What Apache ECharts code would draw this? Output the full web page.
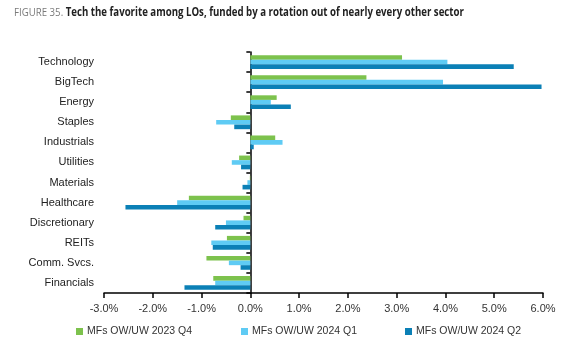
<!DOCTYPE html>
<html><head><meta charset="utf-8">
<script src="https://cdn.jsdelivr.net/npm/echarts@6/dist/echarts.min.js"></script>
<style>html,body{margin:0;padding:0;background:#fff}#c{width:582px;height:363px}</style>
</head><body><div id="c"></div>
<script>
const categories = ["Technology","BigTech","Energy","Staples","Industrials","Utilities","Materials","Healthcare","Discretionary","REITs","Comm. Svcs.","Financials"];
const seriesNames = ["MFs OW/UW 2023 Q4","MFs OW/UW 2024 Q1","MFs OW/UW 2024 Q2"];
const q4_2023 = [3.11, 2.38, 0.54, -0.40, 0.51, -0.23, -0.01, -1.26, -0.14, -0.48, -0.90, -0.76];
const q1_2024 = [4.04, 3.95, 0.42, -0.70, 0.66, -0.38, -0.06, -1.50, -0.50, -0.80, -0.44, -0.72];
const q2_2024 = [5.40, 5.97, 0.83, -0.33, 0.07, -0.19, -0.16, -2.56, -0.72, -0.77, -0.20, -1.35];
const xTicks = {min: -3, max: 6, interval: 1};
const colors = ["#7dc24d", "#5fcbf4", "#0b80b6"];

const chart = echarts.init(document.getElementById('c'), null, {renderer: 'canvas'});
const font = "'Liberation Sans', Arial, sans-serif";
const values = [q4_2023, q1_2024, q2_2024];
const gridLeft = 104, gridRight = 39;
const plotW = 582 - gridLeft - gridRight;
const zeroOffset = plotW * (0 - xTicks.min) / (xTicks.max - xTicks.min);
chart.setOption({
  animation: false,
  graphic: [{
    type: 'text', left: 14, top: 7, scaleX: 0.84, originX: 0,
    style: {
      text: "{a|FIGURE 35. }{b|Tech the favorite among LOs, funded by a rotation out of nearly every other sector}",
      rich: {
        a: {fontFamily: "'Open Sans', sans-serif", fontSize: 11.5, fontWeight: 'normal', fill: '#7a7a7a'},
        b: {fontFamily: "'Open Sans', sans-serif", fontSize: 11.5, fontWeight: 'bold', fill: '#222'}
      }
    }
  }],
  grid: {left: gridLeft, right: gridRight, top: 52, bottom: 70, containLabel: false},
  legend: [0,1,2].map((i) => ({
    data: [seriesNames[i]],
    left: [71, 236, 400][i], top: 321,
    itemWidth: 7, itemHeight: 7, itemGap: 5,
    icon: 'rect',
    textStyle: {fontFamily: font, fontSize: 10.5, color: '#333', padding: [0,0,0,-1]}
  })),
  xAxis: {
    type: 'value', min: xTicks.min, max: xTicks.max, interval: xTicks.interval,
    axisLine: {show: true, lineStyle: {color: '#000', width: 1.5}},
    axisTick: {show: true, length: 5, lineStyle: {color: '#000', width: 1.5}},
    splitLine: {show: false},
    axisLabel: {formatter: (v) => v.toFixed(1) + '%', fontFamily: font, fontSize: 11, color: '#333', margin: 10}
  },
  yAxis: [
    {
      type: 'category', data: categories, inverse: true, position: 'left',
      axisLine: {show: false}, axisTick: {show: false},
      axisLabel: {fontFamily: font, fontSize: 11, color: '#222', margin: 10}
    },
    {
      type: 'category', data: categories, inverse: true, position: 'left',
      offset: -zeroOffset,
      axisLine: {show: true, onZero: false, lineStyle: {color: '#000', width: 1.5}},
      axisTick: {show: true, length: 4, lineStyle: {color: '#000', width: 1.5}},
      axisLabel: {show: false}
    }
  ],
  series: [0,1,2].map((i) => ({
    name: seriesNames[i], type: 'bar', yAxisIndex: 0,
    data: values[i],
    barWidth: 4.6, barGap: '0%',
    itemStyle: {color: colors[i]},
    z: 2
  }))
});
</script></body></html>
